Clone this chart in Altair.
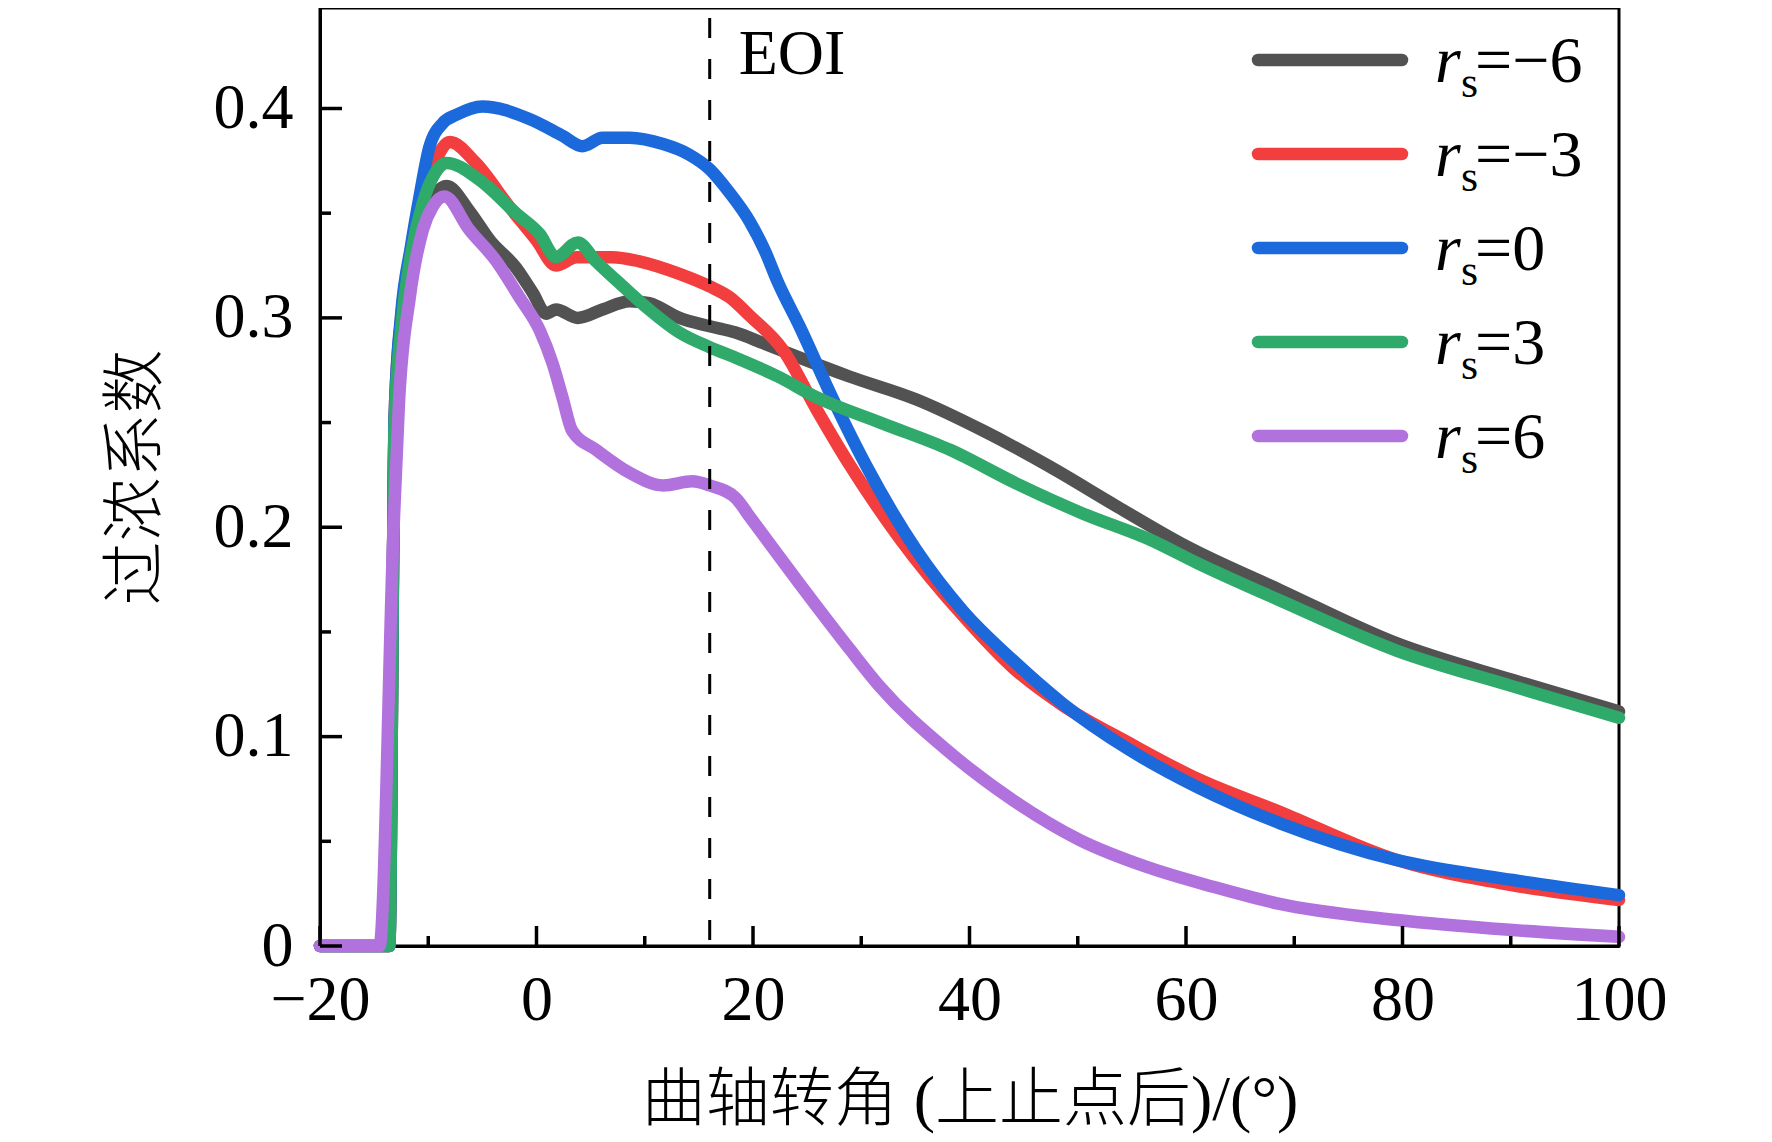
import altair as alt
import pandas as pd

# ---------------- data ----------------
series_names = ["rs=-6", "rs=-3", "rs=0", "rs=3", "rs=6"]
legend_nums = ["=\u22126", "=\u22123", "=0", "=3", "=6"]
colors = ["#525252", "#f23e3e", "#1b69db", "#2faa6b", "#b272dd"]

x_m6 = [-20, -13.6, -13.1, -12.5, -11.5, -10.2, -9.2, -8.3, -6.2, -4.3, -1.9, -0.35, 0.9, 1.8, 3.8,
        6.1, 8.6, 10.4, 13.2, 16, 18.4, 20.9, 24.3, 28.9, 35.1, 41.3, 47.4, 53.6, 60, 68.7, 79.5, 90.2, 100]
y_m6 = [0, 0, 0.25, 0.29, 0.325, 0.348, 0.36, 0.363, 0.351, 0.337, 0.324, 0.312, 0.302, 0.304, 0.300,
        0.304, 0.308, 0.307, 0.300, 0.296, 0.293, 0.288, 0.281, 0.272, 0.261, 0.246, 0.229, 0.210, 0.191,
        0.170, 0.1445, 0.127, 0.112]

x_m3 = [-20, -13.6, -13.1, -12.5, -11.6, -10.5, -9.3, -8, -5.6, -2.5, 0, 1.8, 3.7, 7, 9.5, 13.2, 16,
        17.8, 19.7, 22.8, 25.9, 28.9, 33.5, 39.7, 44, 48.6, 54.8, 61, 68.7, 79.5, 90.2, 100]
y_m3 = [0, 0, 0.254, 0.30, 0.33, 0.355, 0.375, 0.384, 0.374, 0.353, 0.337, 0.325, 0.329, 0.329, 0.327,
        0.321, 0.315, 0.310, 0.301, 0.2845, 0.256, 0.230, 0.195, 0.156, 0.133, 0.115, 0.0968, 0.080,
        0.064, 0.041, 0.029, 0.022]

x_0 = [-20, -13.6, -13.1, -12.5, -11.6, -10.8, -9.9, -8.66, -7.4, -5, -0.65, 2.4, 4.25, 6.1, 8.6, 11.7,
       14.1, 16, 17.8, 19.7, 21.1, 22.3, 24.3, 27.4, 30.5, 35.1, 39.4, 44, 48.6, 54.8, 61, 68.7, 79.5,
       90.2, 100]
y_0 = [0, 0, 0.254, 0.302, 0.334, 0.358, 0.3815, 0.393, 0.397, 0.401, 0.395, 0.387, 0.382, 0.386, 0.386,
       0.383, 0.378, 0.371, 0.360, 0.346, 0.332, 0.317, 0.296, 0.261, 0.229, 0.189, 0.160, 0.1365, 0.1158,
       0.0936, 0.076, 0.0586, 0.041, 0.0315, 0.0243]

x_3 = [-20, -13.6, -13.1, -12.5, -11.6, -10.5, -9.5, -8.3, -5.3, -1.9, 0.3, 1.8, 3.8, 5.5, 8, 10.4, 13.2,
       16, 18.4, 22.3, 25.9, 32, 38.2, 44.3, 50.5, 56.7, 61, 68.7, 79.5, 90.2, 100]
y_3 = [0, 0, 0.25, 0.295, 0.33, 0.355, 0.368, 0.374, 0.366, 0.350, 0.340, 0.329, 0.336, 0.327, 0.315,
       0.304, 0.293, 0.286, 0.281, 0.272, 0.262, 0.2495, 0.237, 0.221, 0.2065, 0.194, 0.183, 0.165, 0.141,
       0.124, 0.109]

x_6 = [-20, -14.5, -13.2, -12.7, -11.7, -10.5, -9.6, -8.5, -6.2, -3.7, -1.6, 0.3, 1.5, 2.4, 3.3, 5.5, 8.6,
       11.7, 14.4, 16, 18.4, 19.7, 24.3, 28.9, 31.7, 37.9, 44, 50.2, 56.3, 62.5, 68.4, 79.5, 90.2, 100]
y_6 = [0, 0, 0.2, 0.26, 0.31, 0.342, 0.353, 0.358, 0.342, 0.327, 0.310, 0.294, 0.278, 0.262, 0.246, 0.237,
       0.226, 0.220, 0.222, 0.220, 0.214, 0.205, 0.173, 0.142, 0.124, 0.0936, 0.0697, 0.0506, 0.0379,
       0.0283, 0.0204, 0.0124, 0.0076, 0.0044]

eoi_x = [16]
eoi_label = ["EOI"]

x_tick_labels = [-20, 0, 20, 40, 60, 80, 100]
x_minor_ticks = [-10, 10, 30, 50, 70, 90]
y_tick_labels = [0, 0.1, 0.2, 0.3, 0.4]
y_minor_ticks = [0.05, 0.15, 0.25, 0.35]

x_title = "曲轴转角 (上止点后)/(°)"
y_title = "过浓系数"

# ---------------- tables ----------------
xs = [x_m6, x_m3, x_0, x_3, x_6]
ys = [y_m6, y_m3, y_0, y_3, y_6]
rows = []
for i, (name, xx, yy) in enumerate(zip(series_names, xs, ys)):
    for a, b in zip(xx, yy):
        rows.append({"series": name, "order": i, "x": a, "y": b})
df = pd.DataFrame(rows)

legend_df = pd.DataFrame({"series": series_names, "row": list(range(len(series_names))), "num": legend_nums})
eoi_df = pd.DataFrame({"x": eoi_x, "label": eoi_label})
xt_major = pd.DataFrame({"t": x_tick_labels})
xt_minor = pd.DataFrame({"t": x_minor_ticks})
yt_major = pd.DataFrame({"t": y_tick_labels})
yt_minor = pd.DataFrame({"t": y_minor_ticks})

# ---------------- style ----------------
W, H = 1299, 938
SERIF = "Liberation Serif"
MIXED = "Liberation Serif, Noto Sans CJK SC"
FS = 64

xscale = alt.Scale(domain=[-20, 100], nice=False, zero=False)
yscale = alt.Scale(domain=[0, 0.448], nice=False, zero=False)
cscale = alt.Scale(domain=series_names, range=colors)
lscale = alt.Scale(type="point", domain=list(range(len(series_names))), range=[52, 428], padding=0)

lines = alt.Chart(df).mark_line(strokeWidth=12.5, interpolate="monotone", strokeJoin="round",
                                strokeCap="round").encode(
    x=alt.X("x:Q", scale=xscale, axis=alt.Axis(values=x_tick_labels, title=x_title, labelPadding=22,
                                                titlePadding=36, orient="bottom", labelFlush=False,
                                                labelOverlap=False)),
    y=alt.Y("y:Q", scale=yscale, axis=alt.Axis(values=y_tick_labels, title=y_title, labelPadding=27,
                                                titlePadding=45, orient="left", labelFlush=False,
                                                labelOverlap=False,
                                                labelExpr="datum.value == 0 ? '0' : format(datum.value, '.1f')")),
    color=alt.Color("series:N", scale=cscale, legend=None),
    order=alt.Order("order:Q"),
    detail="series:N",
)

eoi_rule = alt.Chart(eoi_df).mark_rule(color="black", strokeWidth=3, strokeDash=[20, 21]).encode(
    x=alt.X("x:Q", scale=xscale, axis=None), y=alt.value(10), y2=alt.value(H))

eoi_text = alt.Chart(eoi_df).mark_text(font=SERIF, fontSize=FS, align="left", baseline="alphabetic",
                                       dx=29, color="black").encode(
    x=alt.X("x:Q", scale=xscale, axis=None), y=alt.value(66), text="label:N")

xt1 = alt.Chart(xt_major).mark_rule(color="black", strokeWidth=3.5).encode(
    x=alt.X("t:Q", scale=xscale, axis=None), y=alt.value(H), y2=alt.value(H - 20))
xt2 = alt.Chart(xt_minor).mark_rule(color="black", strokeWidth=3.5).encode(
    x=alt.X("t:Q", scale=xscale, axis=None), y=alt.value(H), y2=alt.value(H - 10))
yt1 = alt.Chart(yt_major).mark_rule(color="black", strokeWidth=3.5).encode(
    y=alt.Y("t:Q", scale=yscale, axis=None), x=alt.value(0), x2=alt.value(22))
yt2 = alt.Chart(yt_minor).mark_rule(color="black", strokeWidth=3.5).encode(
    y=alt.Y("t:Q", scale=yscale, axis=None), x=alt.value(0), x2=alt.value(11))

ly = alt.Y("row:O", scale=lscale, axis=None)
leg_line = alt.Chart(legend_df).mark_rule(strokeWidth=12.5, strokeCap="round").encode(
    x=alt.value(938), x2=alt.value(1082), y=ly,
    color=alt.Color("series:N", scale=cscale, legend=None))
leg_r = alt.Chart(legend_df).mark_text(font=SERIF, fontSize=66, fontStyle="italic", align="left",
                                       baseline="alphabetic", dy=22, color="black").encode(
    x=alt.value(1115), y=ly, text=alt.value("r"))
leg_s = alt.Chart(legend_df).mark_text(font=SERIF, fontSize=44, align="left",
                                       baseline="alphabetic", dy=37, color="black").encode(
    x=alt.value(1141), y=ly, text=alt.value("s"))
leg_n = alt.Chart(legend_df).mark_text(font=SERIF, fontSize=66, align="left",
                                       baseline="alphabetic", dy=22, color="black").encode(
    x=alt.value(1155), y=ly, text="num:N")

chart = alt.layer(
    lines, eoi_rule, eoi_text, xt1, xt2, yt1, yt2, leg_line, leg_r, leg_s, leg_n
).resolve_scale(x="independent", y="independent").properties(
    width=W, height=H,
    autosize=alt.AutoSizeParams(type="none"),
    padding={"left": 312, "top": 0, "right": 145, "bottom": 188},
    background="white",
).configure_view(
    stroke="black", strokeWidth=3
).configure_axis(
    domainColor="black", domainWidth=3, ticks=False, tickSize=0, grid=False,
    labelFont=SERIF, labelFontSize=FS, labelColor="black",
    titleFont=MIXED, titleFontSize=FS, titleColor="black", titleFontWeight=300,
)

chart.save("out.html", embed_options={"renderer": "svg", "actions": False})
